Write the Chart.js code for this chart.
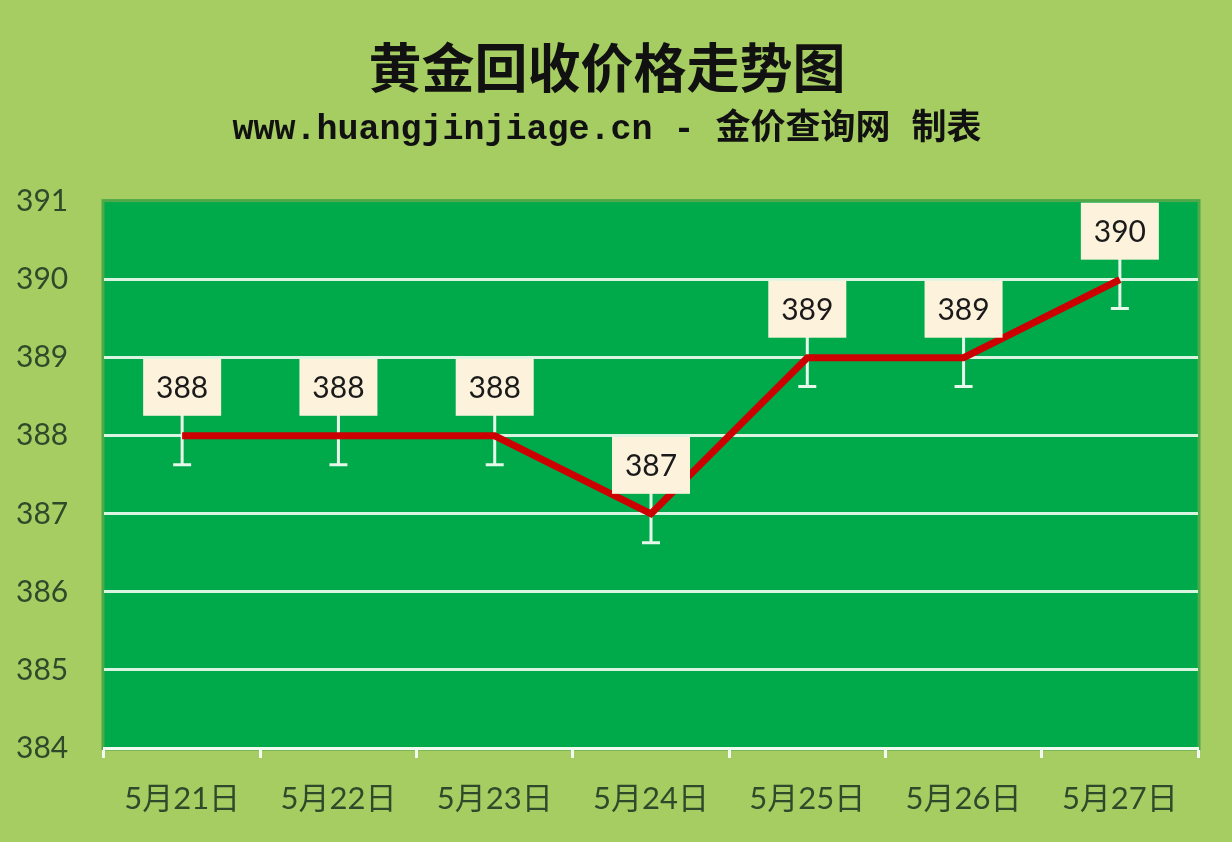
<!DOCTYPE html>
<html lang="zh">
<head>
    <meta charset="UTF-8">
    <title>黄金回收价格走势图</title>
    <style>
        body {
            margin: 0;
            background: #a5cd62;
        }
        #wrap {
            width: 1232px;
            height: 842px;
        }
    </style>
</head>
<body>
    <div id="wrap"><canvas id="goldChart"></canvas></div>

    <script src="https://cdn.jsdelivr.net/npm/chart.js"></script>
    <script>
        // chart data
        const dates = ['5月21日', '5月22日', '5月23日', '5月24日', '5月25日', '5月26日', '5月27日'];
        const prices = [388, 388, 388, 387, 389, 389, 390];
        const errorSize = [0.37, 0.37, 0.37, 0.37, 0.37, 0.37, 0.37];
        const yMin = 384;
        const yMax = 391;

        const plotGreen = '#00aa4b';
        const gridMint = '#d9f5e1';
        const tickText = '#2e4a2b';

        // green plot area with a darker frame
        const plotBackground = {
            id: 'plotBackground',
            beforeDraw(chart) {
                const { ctx, chartArea: a } = chart;
                ctx.save();
                ctx.fillStyle = plotGreen;
                ctx.fillRect(a.left, a.top, a.right - a.left, a.bottom - a.top);
                ctx.strokeStyle = '#4fa84a';
                ctx.lineWidth = 3;
                ctx.strokeRect(a.left - 1, a.top - 1, a.right - a.left + 2, a.bottom - a.top + 2);
                ctx.restore();
            }
        };

        // error bars under the line
        const errorBars = {
            id: 'errorBars',
            beforeDatasetsDraw(chart) {
                const { ctx, scales: { x, y } } = chart;
                ctx.save();
                ctx.strokeStyle = '#e6f8ea';
                ctx.lineWidth = 3;
                prices.forEach((v, i) => {
                    const px = x.getPixelForValue(i);
                    const top = y.getPixelForValue(v + errorSize[i]);
                    const bot = y.getPixelForValue(v - errorSize[i]);
                    ctx.beginPath();
                    ctx.moveTo(px, top);
                    ctx.lineTo(px, bot);
                    ctx.moveTo(px - 9, bot);
                    ctx.lineTo(px + 9, bot);
                    ctx.moveTo(px - 9, top);
                    ctx.lineTo(px + 9, top);
                    ctx.stroke();
                });
                ctx.restore();
            }
        };

        // cream value boxes above each point
        const valueBoxes = {
            id: 'valueBoxes',
            afterDatasetsDraw(chart) {
                const { ctx, scales: { x, y } } = chart;
                ctx.save();
                ctx.font = '30px Lato, "Noto Sans", sans-serif';
                ctx.textAlign = 'center';
                ctx.textBaseline = 'middle';
                prices.forEach((v, i) => {
                    const px = x.getPixelForValue(i);
                    const py = y.getPixelForValue(v);
                    const w = 78, h = 57;
                    const bottom = py - 20;
                    ctx.fillStyle = '#fdf2dc';
                    ctx.fillRect(px - w / 2, bottom - h, w, h);
                    ctx.fillStyle = '#1a1a1a';
                    ctx.fillText(String(v), px, bottom - h / 2 + 1);
                });
                ctx.restore();
            }
        };

        const ctx = document.getElementById('goldChart').getContext('2d');
        const goldChart = new Chart(ctx, {
            type: 'line',
            data: {
                labels: dates,
                datasets: [{
                    label: '价格',
                    data: prices,
                    borderColor: '#cc0000',
                    borderWidth: 7,
                    pointRadius: 0,
                    tension: 0,
                    fill: false
                }]
            },
            options: {
                responsive: true,
                maintainAspectRatio: false,
                animation: false,
                layout: {
                    padding: { left: 16, right: 34, top: 0, bottom: 0 }
                },
                plugins: {
                    legend: { display: false },
                    tooltip: { enabled: false },
                    title: {
                        display: true,
                        text: '黄金回收价格走势图',
                        color: '#111111',
                        font: { family: '"Noto Sans CJK SC", sans-serif', size: 53, weight: 'bold' },
                        padding: { top: 36, bottom: 10 }
                    },
                    subtitle: {
                        display: true,
                        text: 'www.huangjinjiage.cn - 金价查询网 制表',
                        color: '#111111',
                        font: { family: '"Liberation Mono", "Noto Sans CJK SC", monospace', size: 35, weight: 'bold' },
                        padding: { top: 0, bottom: 50 }
                    }
                },
                scales: {
                    x: {
                        offset: true,
                        grid: {
                            offset: true,
                            drawOnChartArea: false,
                            drawTicks: true,
                            tickLength: 10,
                            tickColor: '#f2fbf2',
                            tickWidth: 3
                        },
                        border: { color: '#f2fbf2', width: 3 },
                        ticks: {
                            color: tickText,
                            padding: 22,
                            font: { family: 'Lato, "Noto Sans CJK SC", sans-serif', size: 31 }
                        },
                        afterFit(scale) { scale.height = 94; }
                    },
                    y: {
                        min: yMin,
                        max: yMax,
                        grid: {
                            color: ctx => ctx.tick && ctx.tick.value === yMax ? 'rgba(0,0,0,0)' : gridMint,
                            lineWidth: 3,
                            drawTicks: false
                        },
                        border: { display: false },
                        ticks: {
                            stepSize: 1,
                            color: tickText,
                            crossAlign: 'far',
                            padding: 0,
                            font: { family: 'Lato, "Noto Sans", sans-serif', size: 30 }
                        },
                        afterFit(scale) { scale.width = 88; }
                    }
                }
            },
            plugins: [plotBackground, errorBars, valueBoxes]
        });
    </script>
</body>
</html>
